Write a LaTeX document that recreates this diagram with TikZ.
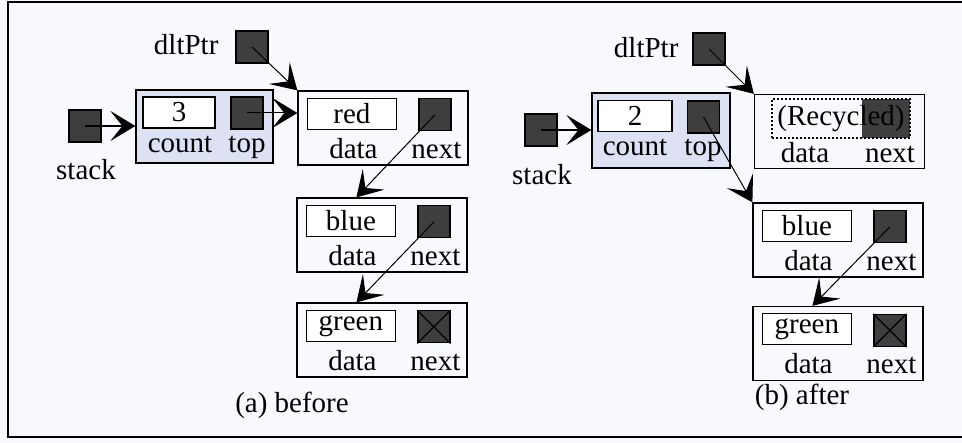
\documentclass[tikz,border=0pt]{standalone}
\usepackage{fontspec}
\setmainfont{Liberation Serif}
\usetikzlibrary{arrows.meta}
\definecolor{ptrgray}{RGB}{62,62,62}
\definecolor{hdrblue}{RGB}{220,225,243}
\definecolor{paper}{RGB}{247,249,252}
\tikzset{
  ptr/.style={draw,fill=ptrgray,minimum size=32pt,inner sep=0pt},
  cell/.style={draw,fill=white,minimum width=89pt,minimum height=31pt,inner sep=0pt},
  rec/.style={draw,minimum width=170pt,minimum height=74pt,inner sep=0pt},
  link/.style={-{Stealth[length=25pt,width=30pt,inset=12pt]},line width=1pt},
  lbl/.style={anchor=base,inner sep=0pt}
}
\def\lnode#1#2#3{%
  \node[rec] (#1) at (#2) {};
  \node[cell] (#1d) at ([shift={(54.5,23.5)}]#1.north west) {#3};
  \node[ptr] (#1n) at ([shift={(137.5,24.5)}]#1.north west) {};
  \node[lbl] (#1dl) at ([shift={(56,68)}]#1.north west) {data};
  \node[lbl] (#1nl) at ([shift={(139,68)}]#1.north west) {next};
}

\begin{document}
\begin{tikzpicture}[x=1pt,y=-1pt,line width=1.2pt,font=\fontsize{29}{32}\selectfont]
  \useasboundingbox[fill=paper] (0,0) rectangle (962,443);
  \draw[line width=2pt] (962,2) -- (8,2) -- (8,437) -- (962,437);

  % (a) before
  \node[ptr] (dltA) at (252,47) {};
  \node[lbl,anchor=base east] (dltlblA) at (219,55) {dltPtr};
  \node[ptr] (stkA) at (85,126) {};
  \node[lbl] (stklblA) at (86,180) {stack};
  \node[rec,fill=hdrblue,minimum width=137pt,minimum height=73pt] (hdrA) at (204.5,126.5) {};
  \node[cell,minimum width=72pt] (cntA) at (179,112.5) {3};
  \node[ptr] (topA) at (247,113) {};
  \node[lbl] (cntlblA) at (180,153) {count};
  \node[lbl] (toplblA) at (247,153) {top};
  \lnode{redA}{383,128}{red}
  \lnode{blueA}{382,235}{blue}
  \lnode{greenA}{382,340}{green}
  \draw (greenAn.north west) -- (greenAn.south east) (greenAn.north east) -- (greenAn.south west);
  \draw[link,line width=1.6pt] (stkA.center) -- (hdrA.west |- stkA);
  \draw[link] (topA.center) -- (topA -| redA.west);
  \draw[link] (dltA.center) -- (redA.north west);
  \draw[link] (redAn.center) -- ([xshift=60pt]blueA.north west);
  \draw[link] (blueAn.center) -- ([xshift=60pt]greenA.north west);
  \node[lbl] (capA) at (292,413) {(a) before};

  % (b) after
  \node[ptr] (dltB) at (709,49) {};
  \node[lbl,anchor=base east] (dltlblB) at (679,58) {dltPtr};
  \node[ptr] (stkB) at (541,130) {};
  \node[lbl] (stklblB) at (542,185) {stack};
  \node[rec,fill=hdrblue,minimum width=138pt,minimum height=75pt] (hdrB) at (661,130.5) {};
  \node[cell,minimum width=74pt] (cntB) at (635,116) {2};
  \node[ptr] (topB) at (703.5,117) {};
  \node[lbl] (cntlblB) at (635,156) {count};
  \node[lbl] (toplblB) at (703,156) {top};
  \node[rec] (recB) at (839.5,131.5) {};
  \node[fill=ptrgray,minimum width=48pt,minimum height=39pt,inner sep=0pt] (recnB) at (886,118.5) {};
  \node[draw,line width=1.8pt,dash pattern=on 2pt off 2pt,minimum width=138pt,minimum height=39pt,inner sep=0pt] (recdB) at (841,118.5) {(Recycled)};
  \node[lbl] (recdlB) at (805,163) {data};
  \node[lbl] (recnlB) at (890,163) {next};
  \lnode{blueB}{838,240}{blue}
  \lnode{greenB}{838,343.5}{green}
  \draw (greenBn.north west) -- (greenBn.south east) (greenBn.north east) -- (greenBn.south west);
  \draw[link,line width=1.6pt] (stkB.center) -- (hdrB.west |- stkB);
  \draw[link] (dltB.center) -- (recB.north west);
  \draw[link] (topB.center) -- (blueB.north west);
  \draw[link] (blueBn.center) -- ([xshift=60pt]greenB.north west);
  \node[lbl] (capB) at (802,405) {(b) after};
\end{tikzpicture}
\end{document}
